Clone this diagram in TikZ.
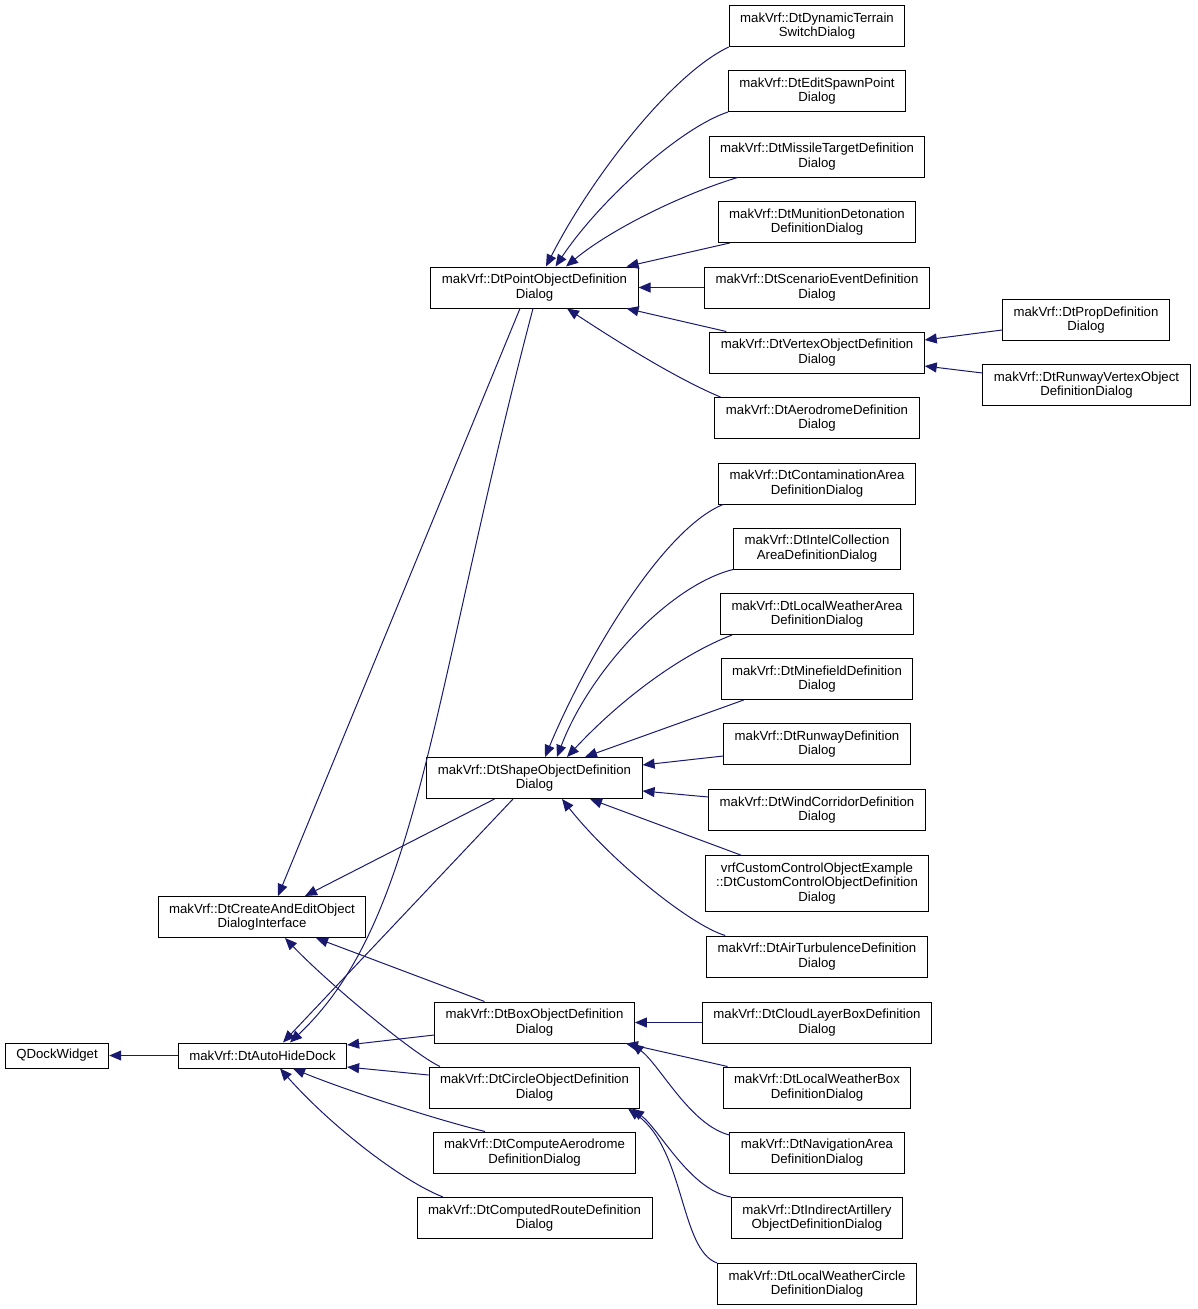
\documentclass[tikz,border=0pt]{standalone}
\usepackage{fontspec}
\setmainfont{Liberation Sans}
\usetikzlibrary{arrows.meta}
\definecolor{azul}{HTML}{191970}
\tikzset{
  clase/.style={draw=black, line width=1pt, fill=white, align=center, inner xsep=11pt, inner ysep=0pt,
    minimum height=41pt, font=\fontsize{13.2}{14.6}\selectfont},
  una/.style={minimum height=25pt},
  tres/.style={minimum height=56pt},
  hereda/.style={draw=azul, line width=1pt, -{Triangle[length=12pt,width=10pt]}}
}
\begin{document}
\begin{tikzpicture}[x=1pt,y=-1pt]
    \useasboundingbox (0,0) rectangle (1197,1309);

    % Clases base
    \node[clase,una] (qdock) at (57,1055.5) {QDockWidget};
    \node[clase,una] (autohide) at (262.5,1055.5) {makVrf::DtAutoHideDock};
    \node[clase] (createedit) at (262,917) {makVrf::DtCreateAndEditObject\\DialogInterface};

    % Columna central
    \node[clase] (pointdef) at (534.5,287.5) {makVrf::DtPointObjectDefinition\\Dialog};
    \node[clase] (shapedef) at (534.5,778) {makVrf::DtShapeObjectDefinition\\Dialog};
    \node[clase] (boxdef) at (534.5,1022.5) {makVrf::DtBoxObjectDefinition\\Dialog};
    \node[clase] (circledef) at (534.5,1087.5) {makVrf::DtCircleObjectDefinition\\Dialog};
    \node[clase] (compaero) at (534.5,1152.5) {makVrf::DtComputeAerodrome\\DefinitionDialog};
    \node[clase] (comproute) at (534.5,1218) {makVrf::DtComputedRouteDefinition\\Dialog};

    % Columna derecha
    \node[clase] (terrain) at (817,26) {makVrf::DtDynamicTerrain\\SwitchDialog};
    \node[clase] (spawn) at (817,91) {makVrf::DtEditSpawnPoint\\Dialog};
    \node[clase] (missile) at (817,156.5) {makVrf::DtMissileTargetDefinition\\Dialog};
    \node[clase] (munition) at (817,222) {makVrf::DtMunitionDetonation\\DefinitionDialog};
    \node[clase] (scenario) at (817,287.5) {makVrf::DtScenarioEventDefinition\\Dialog};
    \node[clase] (vertex) at (817,352.5) {makVrf::DtVertexObjectDefinition\\Dialog};
    \node[clase] (aerodrome) at (817,418) {makVrf::DtAerodromeDefinition\\Dialog};
    \node[clase] (contam) at (817,483.5) {makVrf::DtContaminationArea\\DefinitionDialog};
    \node[clase] (intel) at (817,548.5) {makVrf::DtIntelCollection\\AreaDefinitionDialog};
    \node[clase] (lwarea) at (817,614) {makVrf::DtLocalWeatherArea\\DefinitionDialog};
    \node[clase] (minefield) at (817,679) {makVrf::DtMinefieldDefinition\\Dialog};
    \node[clase] (runway) at (817,744) {makVrf::DtRunwayDefinition\\Dialog};
    \node[clase] (wind) at (817,810) {makVrf::DtWindCorridorDefinition\\Dialog};
    \node[clase,tres] (custom) at (817,883.5) {vrfCustomControlObjectExample\\::DtCustomControlObjectDefinition\\Dialog};
    \node[clase] (airturb) at (817,956.5) {makVrf::DtAirTurbulenceDefinition\\Dialog};
    \node[clase] (cloud) at (817,1022.5) {makVrf::DtCloudLayerBoxDefinition\\Dialog};
    \node[clase] (lwbox) at (817,1087.5) {makVrf::DtLocalWeatherBox\\DefinitionDialog};
    \node[clase] (navarea) at (817,1152.5) {makVrf::DtNavigationArea\\DefinitionDialog};
    \node[clase] (artillery) at (817,1218) {makVrf::DtIndirectArtillery\\ObjectDefinitionDialog};
    \node[clase] (lwcircle) at (817,1284) {makVrf::DtLocalWeatherCircle\\DefinitionDialog};
    \node[clase] (prop) at (1086,320) {makVrf::DtPropDefinition\\Dialog};
    \node[clase] (rwvertex) at (1086.5,385) {makVrf::DtRunwayVertexObject\\DefinitionDialog};

    % Herencia hacia la izquierda
    \draw[hereda] (autohide) -- (qdock);
    \draw[hereda] ([xshift=-14.5pt]pointdef.south) -- ([xshift=16pt]createedit.north);
    \draw[hereda] ([xshift=-40pt]shapedef.south) -- ([xshift=43pt]createedit.north);
    \draw[hereda] ([xshift=-50pt]boxdef.north) -- ([xshift=54pt]createedit.south);
    \draw[hereda] ([xshift=-94.5pt]circledef.north) .. controls (415,1055) and (330,985) .. ([xshift=23pt]createedit.south);
    \draw[hereda] ([xshift=-1.5pt]pointdef.south) .. controls (430,700) and (420,920) .. ([xshift=27.5pt]autohide.north);
    \draw[hereda] ([xshift=-21.5pt]shapedef.south) -- ([xshift=20.5pt]autohide.north);
    \draw[hereda] ([yshift=-12.5pt]boxdef.west) -- ([yshift=10.5pt]autohide.east);
    \draw[hereda] ([yshift=12.5pt]circledef.west) -- ([yshift=-11.5pt]autohide.east);
    \draw[hereda] ([xshift=-49.5pt]compaero.north) .. controls (430,1118) and (340,1088) .. ([xshift=30.5pt]autohide.south);
    \draw[hereda] ([xshift=-91.5pt]comproute.north) .. controls (400,1180) and (330,1125) .. ([xshift=17.5pt]autohide.south);

    % Hijas de DtPointObjectDefinitionDialog
    \draw[hereda] (terrain.south west) .. controls (670,75) and (590,180) .. ([xshift=11.5pt]pointdef.north);
    \draw[hereda] (spawn.south west) .. controls (680,128) and (600,200) .. ([xshift=21pt]pointdef.north);
    \draw[hereda] ([xshift=29pt]missile.south west) .. controls (680,195) and (610,230) .. ([xshift=31.5pt]pointdef.north);
    \draw[hereda] ([xshift=12pt]munition.south west) -- ([xshift=-12pt]pointdef.north east);
    \draw[hereda] (scenario) -- (pointdef);
    \draw[hereda] ([xshift=17pt]vertex.north west) -- ([xshift=-12pt]pointdef.south east);
    \draw[hereda] ([xshift=6pt]aerodrome.north west) .. controls (675,378) and (615,340) .. ([xshift=32.5pt]pointdef.south);
    \draw[hereda] ([yshift=-10pt]prop.west) -- ([yshift=12.5pt]vertex.east);
    \draw[hereda] ([yshift=12pt]rwvertex.west) -- ([yshift=-13.5pt]vertex.east);

    % Hijas de DtShapeObjectDefinitionDialog
    \draw[hereda] ([xshift=5pt]contam.south west) .. controls (665,528) and (590,650) .. ([xshift=10.5pt]shapedef.north);
    \draw[hereda] (intel.south west) .. controls (670,585) and (590,670) .. ([xshift=22.5pt]shapedef.north);
    \draw[hereda] ([xshift=12pt]lwarea.south west) .. controls (680,655) and (620,700) .. ([xshift=32.5pt]shapedef.north);
    \draw[hereda] ([xshift=23pt]minefield.south west) -- ([xshift=50.5pt]shapedef.north);
    \draw[hereda] ([yshift=-12pt]runway.west) -- ([yshift=13pt]shapedef.east);
    \draw[hereda] ([yshift=13pt]wind.west) -- ([yshift=-13pt]shapedef.east);
    \draw[hereda] ([xshift=36pt]custom.north west) -- ([xshift=55.5pt]shapedef.south);
    \draw[hereda] ([xshift=19pt]airturb.north west) .. controls (690,925) and (610,860) .. ([xshift=27.5pt]shapedef.south);

    % Hijas de caja y circulo
    \draw[hereda] (cloud) -- (boxdef);
    \draw[hereda] ([xshift=5pt]lwbox.north west) -- ([xshift=-9pt]boxdef.south east);
    \draw[hereda] ([yshift=17.5pt]navarea.west) .. controls (690,1125) and (660,1065) .. ([xshift=97pt]boxdef.south);
    \draw[hereda] (artillery.north west) .. controls (690,1190) and (660,1130) .. ([xshift=97.5pt]circledef.south);
    \draw[hereda] (lwcircle.north west) .. controls (680,1250) and (685,1150) .. ([xshift=93.5pt]circledef.south);
\end{tikzpicture}
\end{document}
